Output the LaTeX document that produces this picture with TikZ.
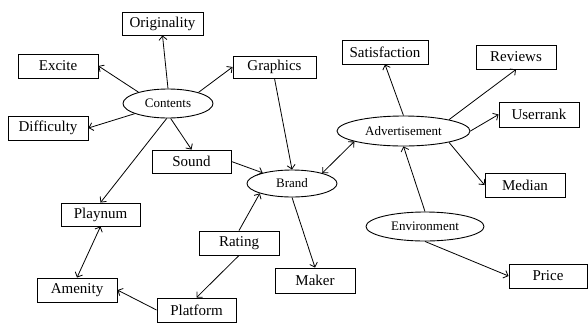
\documentclass[tikz,border=0pt]{standalone}
\usepackage{fontspec}
\setmainfont{Liberation Serif}
\usetikzlibrary{shapes.geometric,arrows.meta}
\begin{document}
\begin{tikzpicture}[x=1pt,y=-1pt,
  box/.style={draw,line width=0.9pt,rectangle,minimum width=80pt,minimum height=24pt,inner sep=1pt,font=\fontsize{15}{17}\selectfont},
  ell/.style={draw,line width=0.9pt,ellipse,inner sep=0pt,font=\fontsize{13}{15}\selectfont},
  con/.style={line width=0.8pt,-{Straight Barb[length=4pt,width=8pt]}},
  bicon/.style={line width=0.8pt,{Straight Barb[length=4pt,width=8pt]}-{Straight Barb[length=4pt,width=8pt]}}]
\useasboundingbox (0,0) rectangle (588,322);
% boxes
\node[box,minimum width=81pt,minimum height=23pt] (orig) at (162.5,23.5) {Originality};
\node[box] (excite) at (58,66) {Excite};
\node[box,minimum width=83pt,minimum height=22pt] (graph) at (274.5,67) {Graphics};
\node[box] (diff) at (48,128) {Difficulty};
\node[box,minimum width=79pt,minimum height=23pt] (sound) at (191.5,161.5) {Sound};
\node[box,minimum width=79pt,minimum height=23pt] (play) at (100.5,214.5) {Playnum};
\node[box] (rating) at (239,243) {Rating};
\node[box] (amen) at (77,290) {Amenity};
\node[box,minimum width=79pt] (plat) at (196.5,310) {Platform};
\node[box,minimum height=25pt] (maker) at (315,280.5) {Maker};
\node[box,minimum width=86pt] (sat) at (385,52) {Satisfaction};
\node[box] (rev) at (516,57) {Reviews};
\node[box,minimum height=25pt] (user) at (539,114.5) {Userrank};
\node[box] (median) at (525,185) {Median};
\node[box,minimum width=78pt] (price) at (548,276) {Price};
% ellipses
\node[ell,minimum width=90pt,minimum height=29pt] (cont) at (168,103.5) {Contents};
\node[ell,minimum width=90pt,minimum height=27pt] (brand) at (292,183.5) {Brand};
\node[ell,minimum width=133pt,minimum height=30pt] (adv) at (403.5,131) {Advertisement};
\node[ell,minimum width=118pt,minimum height=29pt] (env) at (425,226.5) {Environment};
% connectors
\draw[con] (cont.north) -- (orig.south);
\draw[con] (cont.159) -- (excite.east);
\draw[con] (cont.20) -- (graph.west);
\draw[con] (cont.197) -- (diff.east);
\draw[con] (cont.280) -- (sound.north);
\draw[con] (cont.265) -- (play.north);
\draw[con] (graph.south) -- (brand.north);
\draw[con] (sound.east) -- (brand.160);
\draw[con] (rating.north) -- (brand.197);
\draw[con] (rating.south) -- (plat.north);
\draw[con] (plat.west) -- (amen.east);
\draw[bicon] (play.south) -- (amen.north);
\draw[con] (brand.south) -- (maker.north);
\draw[bicon] (brand.19) -- (adv.192);
\draw[con] (adv.north) -- (sat.south);
\draw[con] (adv.14) -- (rev.south);
\draw[con] (adv.east) -- (user.west);
\draw[con] (adv.346) -- (median.west);
\draw[con] (env.north) -- (adv.south);
\draw[con] (env.south) -- (price.west);
\end{tikzpicture}
\end{document}
